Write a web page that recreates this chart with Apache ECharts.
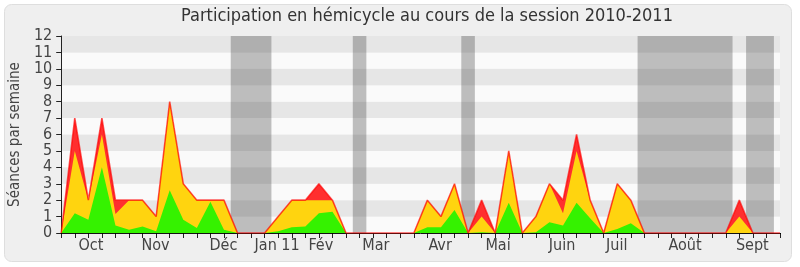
<!DOCTYPE html>
<html>
<head>
<meta charset="utf-8">
<script src="https://cdn.jsdelivr.net/npm/echarts@6/dist/echarts.min.js"></script>
<style>
html,body{margin:0;padding:0;background:#ffffff;}
#c{width:800px;height:267px;}
</style>
</head>
<body>
<div id="c"></div>
<script>
// Weekly values, weeks 0..53 (session 2010-2011)
var presence = [0,7,2,7,2,2,2,1,8,3,2,2,2,0,0,0,1,2,2,3,2,0,0,0,0,0,0,2,1,3,0,2,0,5,0,1,3,2,6,2,0,3,2,0,0,0,0,0,0,0,2,0,0,0];
var participation = [0,5,2,6,1.15,2,2,1,8,3,2,2,2,0,0,0,1,2,2,2,2,0,0,0,0,0,0,2,1,3,0,1,0,5,0,1,3,1.2,5,2,0,3,2,0,0,0,0,0,0,0,1,0,0,0];
var interventions = [0,1.2,0.8,4,0.45,0.2,0.4,0.1,2.6,0.8,0.3,1.9,0.2,0,0,0,0.1,0.35,0.4,1.2,1.3,0,0,0,0,0,0,0.35,0.35,1.4,0,0.05,0,1.85,0,0.05,0.65,0.45,1.85,0.9,0,0.25,0.6,0,0,0,0,0,0,0,0,0,0,0];
var monthLabels = ['Oct','Nov','Déc','Jan 11','Fév','Mar','Avr','Mai','Juin','Juil','Août','Sept'];
var monthPos = [2.19,6.95,11.96,15.92,19.14,23.2,27.94,32.21,36.93,40.96,46.0,50.96];
var vacations = [[12.5,15.5],[21.5,22.5],[29.5,30.5],[42.5,49.5],[50.5,52.55]];

function pairs(arr){ return arr.map(function(v,i){ return [i,v]; }); }
var labelMap = {};
monthPos.forEach(function(p,i){ labelMap[p.toFixed(2)] = monthLabels[i]; });

var FONT = '"DejaVu Sans Condensed","DejaVu Sans",sans-serif';
var chart = echarts.init(document.getElementById('c'), null, {renderer:'canvas'});
chart.setOption({
  animation:false,
  backgroundColor:'transparent',
  graphic:[{type:'rect', z:-10, shape:{x:4.5,y:4.5,width:787,height:257,r:7},
    style:{fill:'#efefef', stroke:'#dedede', lineWidth:1}}],
  title:{text:'Participation en hémicycle au cours de la session 2010-2011',
    left:181, top:7, padding:0,
    textStyle:{fontFamily:FONT, fontSize:18, fontWeight:'normal', color:'#333'}},
  grid:{left:61, right:20, top:36, bottom:34},
  xAxis:[{
    type:'value', min:0, max:53, interval:1,
    axisLine:{show:true, onZero:false, lineStyle:{color:'#111', width:1}},
    axisTick:{show:true, length:5, lineStyle:{color:'#222'}},
    splitLine:{show:false},
    axisLabel:{customValues:monthPos, margin:5, color:'#444', fontFamily:FONT, fontSize:16,
      formatter:function(v){ return labelMap[Number(v).toFixed(2)] || ''; }}
  },{
    type:'value', position:'top', min:0, max:53, interval:1,
    axisLine:{show:false},
    axisTick:{show:true, inside:true, length:1, lineStyle:{color:'#000'}},
    axisLabel:{show:false}, splitLine:{show:false}
  }],
  yAxis:{
    type:'value', min:0, max:12, interval:1,
    name:'Séances par semaine', nameLocation:'middle', nameGap:30,
    nameTextStyle:{fontFamily:FONT, fontSize:15, color:'#444'},
    axisLine:{show:true, lineStyle:{color:'#222'}},
    axisTick:{show:true, length:5, lineStyle:{color:'#222'}},
    axisLabel:{margin:9, color:'#444', fontFamily:FONT, fontSize:16},
    splitLine:{show:false},
    splitArea:{show:true, areaStyle:{color:['#fafafa','#e6e6e6']}}
  },
  series:[
    {type:'line', data:[], z:1, silent:true,
      markArea:{silent:true, itemStyle:{color:'rgba(40,40,40,0.29)'},
        data:vacations.map(function(v){ return [{xAxis:v[0]},{xAxis:v[1]}]; })}},
    {type:'line', data:pairs(presence), z:2, symbol:'none', smooth:false,
      lineStyle:{width:0}, areaStyle:{color:'#ff2f2f', opacity:1}},
    {type:'line', data:pairs(participation), z:3, symbol:'none',
      lineStyle:{width:0}, areaStyle:{color:'#ffd40f', opacity:1}},
    {type:'line', data:pairs(interventions), z:4, symbol:'none',
      lineStyle:{width:0}, areaStyle:{color:'#35f200', opacity:1}},
    {type:'line', data:pairs(presence), z:5, symbol:'none',
      lineStyle:{width:1.6, color:'rgba(255,0,0,0.65)'}}
  ]
});
</script>
</body>
</html>
